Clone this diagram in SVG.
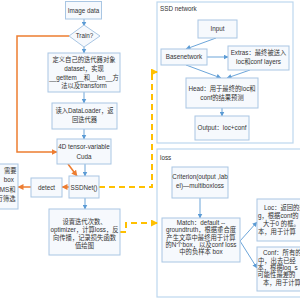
<svg xmlns="http://www.w3.org/2000/svg" width="300" height="300" viewBox="0 0 300 300">
<defs>
<marker id="ab" markerWidth="5" markerHeight="5" refX="4.5" refY="2.5" orient="auto" markerUnits="userSpaceOnUse"><path d="M0,0 L5,2.5 L0,5 Z" fill="#5B9BD5"/></marker>
<marker id="ao" markerWidth="6" markerHeight="6" refX="5.5" refY="3" orient="auto" markerUnits="userSpaceOnUse"><path d="M0,0 L6,3 L0,6 Z" fill="#ED7D31"/></marker>
<marker id="ay" markerWidth="7" markerHeight="7" refX="6" refY="3.5" orient="auto" markerUnits="userSpaceOnUse"><path d="M0,0 L7,3.5 L0,7 Z" fill="#FFC000"/></marker>
</defs>
<style>
.box{fill:#F6F9FD;stroke:#A9C6E3;stroke-width:1}
.cont{fill:#FFFFFF;stroke:#BDD7EE;stroke-width:1.2}
text{font-family:"Liberation Sans","Noto Sans CJK SC",sans-serif;font-size:6.3px;fill:#333}
.c{text-anchor:middle}
.e{text-anchor:end}
.bl{fill:none;stroke:#5B9BD5;stroke-width:0.9;marker-end:url(#ab)}
.or{fill:none;stroke:#ED7D31;stroke-width:1.5}
.dy{fill:none;stroke:#FFC000;stroke-width:2;stroke-dasharray:6 4}
</style>
<rect width="300" height="300" fill="#FFFFFF"/>

<g id="ssd-network">
<rect class="cont" x="157" y="2" width="136" height="141"/>
<text x="160" y="10.5">SSD network</text>
</g>
<g id="loss">
<rect class="cont" x="157" y="149" width="150" height="148"/>
<text x="160" y="159.5">loss</text>
</g>

<g id="connectors">
<line class="bl" x1="84" y1="19" x2="84" y2="26"/>
<line class="bl" x1="84" y1="47" x2="84" y2="53"/>
<line class="bl" x1="84" y1="92" x2="84" y2="103"/>
<line class="bl" x1="84" y1="129" x2="84" y2="139"/>
<line class="bl" x1="85" y1="164" x2="85" y2="176"/>
<line class="bl" x1="85" y1="198" x2="85" y2="209"/>
<polyline class="or" points="69,36 17,36 17,152 57,152" marker-end="url(#ao)"/>
<line class="or" x1="68" y1="164" x2="77" y2="176" marker-end="url(#ao)"/>
<line class="or" x1="69" y1="187" x2="62" y2="187" marker-end="url(#ao)"/>
<line class="or" x1="31" y1="187" x2="18" y2="187" marker-end="url(#ao)"/>
<polyline class="dy" points="99,187 152,187 152,72 157,72" marker-end="url(#ay)"/>
<polyline class="dy" points="120,232 126,232 126,223 157,223" marker-end="url(#ay)"/>
<line class="bl" x1="216" y1="38" x2="186" y2="49"/>
<line class="bl" x1="207" y1="57" x2="228" y2="57"/>
<line class="bl" x1="186" y1="65" x2="221" y2="78"/>
<line class="bl" x1="250" y1="70" x2="227" y2="78"/>
<line class="bl" x1="222" y1="108" x2="222" y2="116"/>
<line class="bl" x1="200" y1="198" x2="200" y2="218"/>
<line class="bl" x1="240" y1="241" x2="257" y2="222"/>
<line class="bl" x1="240" y1="241" x2="257" y2="268"/>
</g>

<g id="image-data">
<rect class="box" x="65.5" y="1.5" width="36" height="17.5"/>
<text class="c" x="83.5" y="12.5">Image data</text>
</g>
<g id="train">
<polygon class="box" points="84,25 100,36 84,47 69,36"/>
<text class="c" x="84.5" y="38.3">Train?</text>
</g>
<g id="dataset">
<rect class="box" x="48" y="53" width="72" height="39"/>
<text class="c" x="84" y="62.3">定义自己的迭代器对象</text>
<text class="c" x="84" y="71">dataset，实现</text>
<text class="c" x="84" y="79.5">__getitem__和__len__方</text>
<text class="c" x="84" y="88">法以及transform</text>
</g>
<g id="dataloader">
<rect class="box" x="52" y="103" width="65" height="26"/>
<text class="c" x="84.5" y="112.5">读入DataLoader，返</text>
<text class="c" x="84.5" y="121.5">回迭代器</text>
</g>
<g id="tensor">
<rect class="box" x="57" y="139" width="54" height="25"/>
<text class="c" x="84" y="149">4D tensor-variable</text>
<text class="c" x="84" y="158.5">Cuda</text>
</g>
<g id="ssdnet">
<rect class="box" x="69" y="176" width="30" height="22"/>
<text class="c" x="84" y="189.5">SSDNet()</text>
</g>
<g id="detect">
<rect class="box" x="31" y="178" width="31" height="19"/>
<text class="c" x="46.5" y="189.5">detect</text>
</g>
<g id="nms">
<rect class="box" x="-20" y="164" width="38" height="45"/>
<text class="e" x="16.5" y="172.5">需要</text>
<text class="e" x="14" y="182">box</text>
<text class="e" x="15.5" y="192">NMS和</text>
<text class="e" x="15.5" y="200.5">行筛选</text>
</g>
<g id="train-loop">
<rect class="box" x="49" y="209" width="71" height="46"/>
<text class="c" x="84.5" y="223.5">设置迭代次数、</text>
<text class="c" x="84.5" y="231.5">optimizer，计算loss，反</text>
<text class="c" x="84.5" y="239.5">向传播，记录损失函数</text>
<text class="c" x="84.5" y="247.5">值绘图</text>
</g>

<g id="input">
<rect class="box" x="198" y="20" width="39" height="18"/>
<text class="c" x="217.5" y="31.3">Input</text>
</g>
<g id="basenetwork">
<rect class="box" x="161" y="49" width="46" height="16"/>
<text class="c" x="184" y="59.3">Basenetwork</text>
</g>
<g id="extras">
<rect class="box" x="228" y="46" width="61" height="24"/>
<text class="c" x="258.5" y="55.3">Extras：最终被送入</text>
<text class="c" x="258.5" y="64.3">loc和conf layers</text>
</g>
<g id="head">
<rect class="box" x="186" y="78" width="72" height="30"/>
<text class="c" x="222" y="91.3">Head：用于最终的loc和</text>
<text class="c" x="222" y="100.3">conf的结果预测</text>
</g>
<g id="output">
<rect class="box" x="195" y="116" width="54" height="24"/>
<text class="c" x="222" y="130.3">Output：loc+conf</text>
</g>

<g id="criterion">
<rect class="box" x="172" y="167" width="56" height="31"/>
<text class="c" x="200" y="179.3">Criterion(output ,lab</text>
<text class="c" x="200" y="188.3">el)—multiboxloss</text>
</g>
<g id="match">
<rect class="box" x="162" y="218" width="78" height="44"/>
<text class="c" x="201" y="225">Match：default --</text>
<text class="c" x="201" y="232.3">groundtruth，根据重合度</text>
<text class="c" x="201" y="239.6">产生文章中最终用于计算</text>
<text class="c" x="201" y="246.9">的N个box，以及conf loss</text>
<text class="c" x="201" y="254.2">中的负样本 box</text>
</g>
<g id="loc">
<rect class="box" x="257" y="199" width="60" height="42"/>
<text x="264" y="210">Loc：返回的是</text>
<text x="258" y="218">g，根据conf的</text>
<text x="263" y="226">大于0 的框。</text>
<text x="258" y="234">本，用于计算</text>
</g>
<g id="conf">
<rect class="box" x="257" y="247" width="60" height="44"/>
<text x="263" y="255.3">Conf：所有的</text>
<text x="258" y="262.6">中，出去已经</text>
<text x="257.5" y="269.9">本，根据log_s</text>
<text x="257.5" y="277.2">可能性最差的</text>
<text x="263" y="284.5">本，用于计算</text>
</g>
</svg>
